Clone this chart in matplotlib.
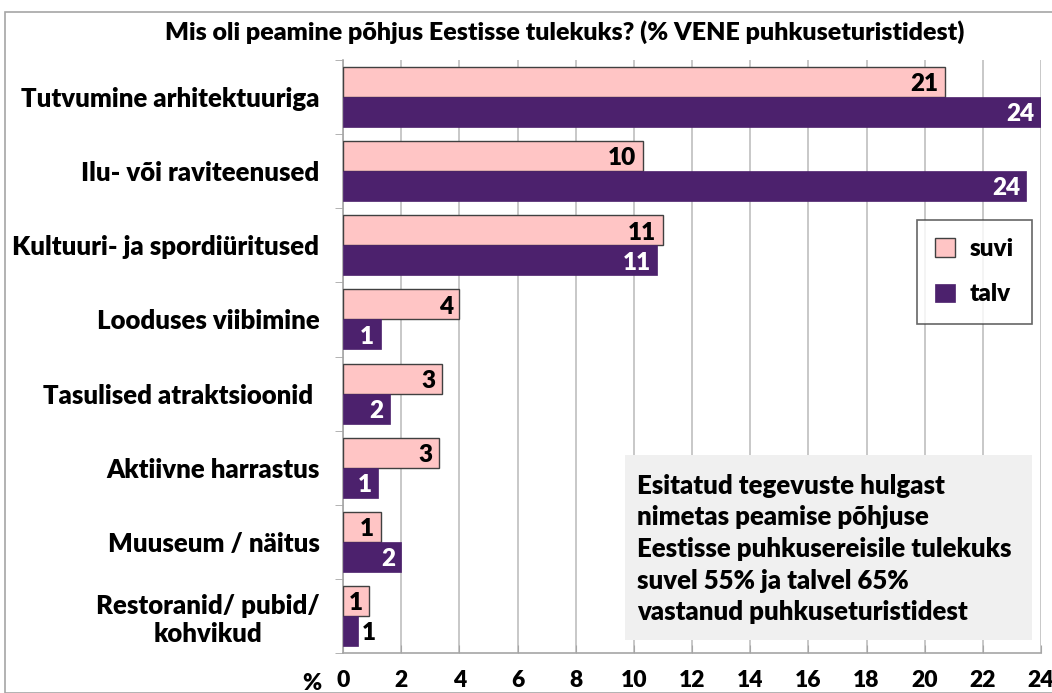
import matplotlib
matplotlib.use("Agg")
import matplotlib.pyplot as plt
from matplotlib.patches import Rectangle
import numpy as np

categories = ["Tutvumine arhitektuuriga", "Ilu- või raviteenused", "Kultuuri- ja spordiüritused",
              "Looduses viibimine", "Tasulised atraktsioonid ", "Aktiivne harrastus",
              "Muuseum / näitus", "Restoranid/ pubid/\nkohvikud"]
suvi = [20.7, 10.3, 11.0, 4.0, 3.4, 3.3, 1.3, 0.9]
talv = [24.0, 23.5, 10.8, 1.3, 1.6, 1.2, 2.0, 0.5]
suvi_labels = ["21", "10", "11", "4", "3", "3", "1", "1"]
talv_labels = ["24", "24", "11", "1", "2", "1", "2", "1"]
xticks = list(range(0, 25, 2))

plt.rcParams['font.family'] = ['Lato', 'DejaVu Sans']
W = 'heavy'

fig = plt.figure(figsize=(10.52, 6.93), dpi=100)
fig.patches.append(Rectangle((5/1052, 0), 1.2, 1 - 12/693, transform=fig.transFigure,
                             fill=False, edgecolor='#a6a6a6', lw=1.2))
ax = fig.add_axes([343/1052, 1 - 653/693, 698/1052, 593/693])

n = len(categories)
y = np.arange(n)
h = 0.405
c_s = '#ffc5c5'
c_t = '#4c216d'
ax.barh(y - h/2, suvi, height=h, color=c_s, edgecolor='#404040', lw=1.0, zorder=3, label='suvi')
ax.barh(y + h/2, talv, height=h, color=c_t, edgecolor=c_t, lw=0.5, zorder=3, label='talv')

for i in range(n):
    ax.text(suvi[i] - 0.22, y[i] - h/2 + 0.03, suvi_labels[i], ha='right', va='center',
            fontsize=17.5, fontweight=W, color='black', zorder=4)
    if talv[i] >= 1.0:
        ax.text(talv[i] - 0.22, y[i] + h/2 + 0.03, talv_labels[i], ha='right', va='center',
                fontsize=17.5, fontweight=W, color='white', zorder=4)
    else:
        ax.text(talv[i] + 0.15, y[i] + h/2 + 0.03, talv_labels[i], ha='left', va='center',
                fontsize=17.5, fontweight=W, color='black', zorder=4)

ax.set_ylim(n - 0.5, -0.5)
ax.set_xlim(0, 24)
ax.set_xticks(xticks)
ax.set_xticklabels([str(v) for v in xticks], fontsize=16.5, fontweight=W)
ax.set_yticks(y)
ax.set_yticklabels(categories, fontsize=18.5, fontweight=W, multialignment='center')
ax.set_yticks(np.arange(-0.5, n, 1), minor=True)
ax.tick_params(axis='y', which='major', length=0, pad=17)
ax.tick_params(axis='y', which='minor', length=6, color='#a6a6a6', direction='out')
ax.tick_params(axis='x', length=6, color='#a6a6a6', direction='in', pad=12)
ax.grid(axis='x', color='#bfbfbf', lw=1.2, zorder=0)
for s in ['top', 'right']:
    ax.spines[s].set_visible(False)
ax.spines['left'].set_color('#a6a6a6')
ax.spines['bottom'].set_color('#a6a6a6')
ax.spines['left'].set_linewidth(1.2)
ax.spines['bottom'].set_linewidth(1.2)

fig.text(312/1052, 1 - 684/693, "%", fontsize=16.5, fontweight=W, ha='center', va='center')

fig.text(565/1052, 1 - 32/693, "Mis oli peamine põhjus Eestisse tulekuks? (% VENE puhkuseturistidest)",
         fontsize=18, fontweight=W, ha='center', va='center')

leg = ax.legend(loc='upper left', bbox_to_anchor=((917-343)/698, 1 - (220-60)/593),
                prop={'size': 17.5, 'weight': W}, frameon=True, fancybox=False, edgecolor='#404040',
                handlelength=0.8, handleheight=0.8, labelspacing=0.95, borderpad=0.75,
                handletextpad=0.6, borderaxespad=0)
leg.get_frame().set_linewidth(1.2)

box = Rectangle((625/1052, 1 - 640/693), (1032-625)/1052, (640-455)/693, transform=fig.transFigure,
                facecolor='#f0f0f0', edgecolor='none', zorder=5)
fig.patches.append(box)
fig.text(637/1052, 1 - 549/693,
         "Esitatud tegevuste hulgast\nnimetas peamise põhjuse\nEestisse puhkusereisile tulekuks\nsuvel 55% ja talvel 65%\nvastanud puhkuseturistidest",
         fontsize=18.5, fontweight=W, ha='left', va='center', linespacing=1.38, zorder=6)

fig.savefig("out.png", dpi=100)
